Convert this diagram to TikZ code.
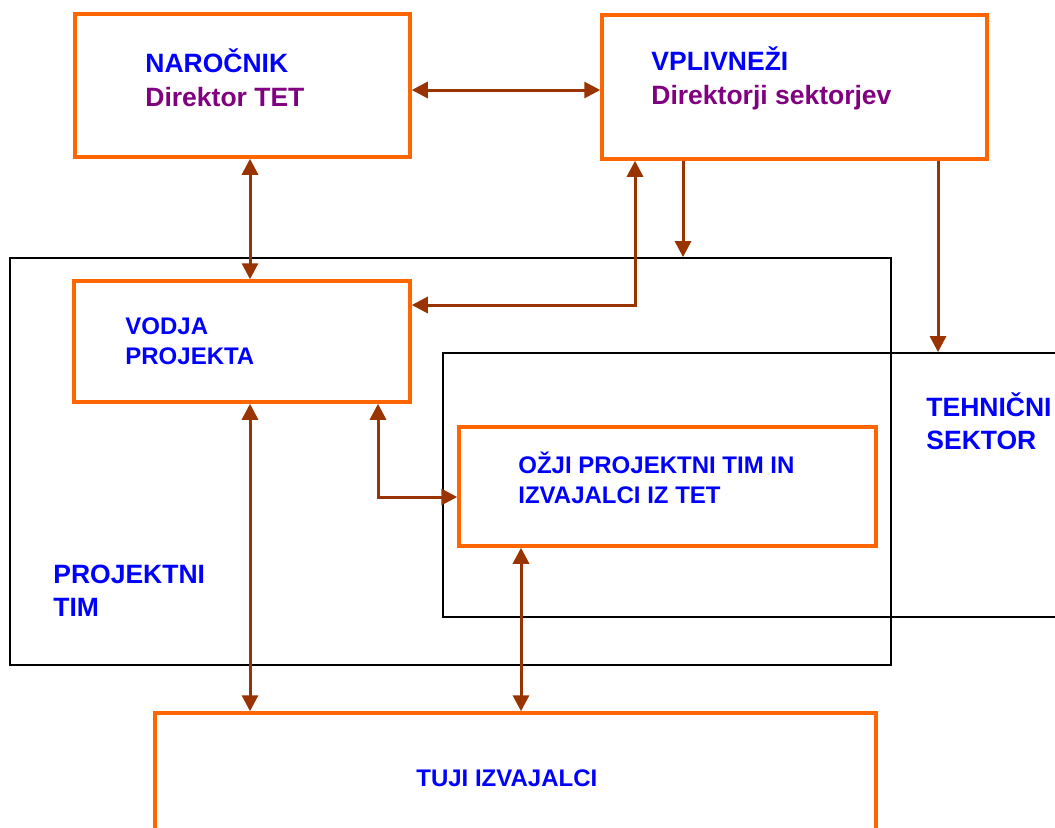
\documentclass[tikz,border=0pt]{standalone}
\usepackage{fontspec}
\setmainfont{Liberation Sans}
\usetikzlibrary{arrows.meta,fit}
\definecolor{orng}{HTML}{FF6600}
\definecolor{brn}{HTML}{993300}
\definecolor{txtblue}{HTML}{0000FF}
\definecolor{purp}{HTML}{800080}
\begin{document}
\begin{tikzpicture}[x=0.5pt,y=-0.5pt,
 obox/.style={draw=orng, line width=1.75pt, inner sep=0pt},
 kbox/.style={draw=black, line width=0.9pt, inner sep=0pt},
 conn/.style={draw=brn, line width=1.5pt, -{Triangle[length=8pt,width=8pt]}},
 conn2/.style={draw=brn, line width=1.5pt, {Triangle[length=8pt,width=8pt]}-{Triangle[length=8pt,width=8pt]}},
 big/.style={font=\fontsize{13.25pt}{16pt}\selectfont\bfseries, text=txtblue, anchor=base west, inner sep=0pt},
 small/.style={font=\fontsize{12pt}{14pt}\selectfont\bfseries, text=txtblue, anchor=base west, inner sep=0pt},
]
\useasboundingbox (0,0) rectangle (1055,827);
\clip (0,0) rectangle (1055,827);
\fill[white] (0,0) rectangle (1055,827);

% frames
\node[kbox, fit={(10,258) (891,665)}] (pt) {};
\node[kbox, fit={(443,353) (1100,617)}] (teh) {};
\node[obox, fit={(75,14) (410,157)}] (nar) {};
\node[obox, fit={(602,15) (987,159)}] (vpl) {};
\node[obox, fit={(74,281) (410,402)}] (vod) {};
\node[obox, fit={(459,427) (876,546)}] (ozj) {};
\node[obox, fit={(155,713) (876,900)}] (tuj) {};

% texts
\node[big] (t1) at (145,72) {NAROČNIK};
\node[big, text=purp] (t2) at (145,106) {Direktor TET};
\node[big] (t3) at (651,70) {VPLIVNEŽI};
\node[big, text=purp] (t4) at (651,104) {Direktorji sektorjev};
\node[small] (t5) at (125,334) {VODJA};
\node[small] (t6) at (125,364) {PROJEKTA};
\node[big] (t7) at (926,416) {TEHNIČNI};
\node[big] (t8) at (926,449) {SEKTOR};
\node[big] (t9) at (53,583) {PROJEKTNI};
\node[big] (t10) at (53,616) {TIM};
\node[small] (t11) at (518,473) {OŽJI PROJEKTNI TIM IN};
\node[small] (t12) at (518,503) {IZVAJALCI IZ TET};
\node[small] (t13) at (416,786) {TUJI IZVAJALCI};

% helper coordinates
\coordinate (xa) at (250,0);
\coordinate (xb) at (378,0);
\coordinate (xc) at (521,0);
\coordinate (xd) at (635,0);
\coordinate (xe) at (683,0);
\coordinate (xf) at (938,0);
\coordinate (ya) at (0,90);
\coordinate (yb) at (0,305);
\coordinate (yc) at (0,497);

% connectors
\draw[conn2] (nar.east |- ya) -- (vpl.west |- ya);
\draw[conn2] (nar.south -| xa) -- (vod.north -| xa);
\draw[conn2] (vod.south -| xa) -- (tuj.north -| xa);
\draw[conn2] (ozj.south -| xc) -- (tuj.north -| xc);
\draw[conn] (vpl.south -| xe) -- (pt.north -| xe);
\draw[conn] (vpl.south -| xf) -- (teh.north -| xf);
\draw[conn2] (vod.east |- yb) -| (vpl.south -| xd);
\draw[conn2] (vod.south -| xb) |- (ozj.west |- yc);
\end{tikzpicture}
\end{document}
